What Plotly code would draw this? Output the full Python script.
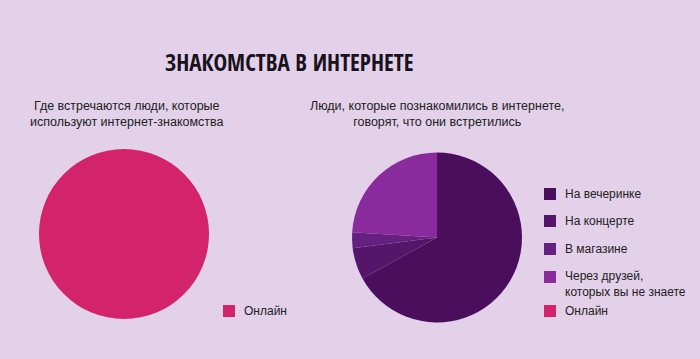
import plotly.graph_objects as go

# ---- data ----
left_labels = ["Онлайн"]
left_values = [100]

right_labels = ["На вечеринке", "На концерте", "В магазине", "Через друзей,<br>которых вы не знаете"]
right_values = [67, 6, 3, 24]

legend_labels = ["На вечеринке", "На концерте", "В магазине", "Через друзей,<br>которых вы не знаете", "Онлайн"]

title_text = "ЗНАКОМСТВА В ИНТЕРНЕТЕ"
left_sub = "Где встречаются люди, которые<br>используют интернет-знакомства"
right_sub = "Люди, которые познакомились в интернете,<br>говорят, что они встретились"

# ---- styles ----
BG = "#e3d0e9"
PINK = "#d3236b"
PURPLES = ["#4a0e5c", "#55156b", "#66207f", "#8a2b9d"]
legend_colors = PURPLES + [PINK]
W, H = 700, 359

fig = go.Figure()

fig.add_trace(go.Pie(
    labels=left_labels, values=left_values, sort=False, direction="clockwise",
    marker=dict(colors=[PINK], line=dict(width=0)),
    textinfo="none", hoverinfo="label+percent", showlegend=False,
    domain=dict(x=[39/W, 209/W], y=[(H-234-85)/H, (H-234+85)/H]),
))
fig.add_trace(go.Pie(
    labels=right_labels, values=right_values, sort=False, direction="clockwise",
    rotation=0,
    marker=dict(colors=PURPLES, line=dict(width=0)),
    textinfo="none", hoverinfo="label+percent", showlegend=False,
    domain=dict(x=[352/W, 522/W], y=[(H-237.5-85)/H, (H-237.5+85)/H]),
))

shapes = []
annotations = []

# title
annotations.append(dict(
    text="<b>" + title_text + "</b>", x=289/W, y=1 - 62/H, xref="paper", yref="paper",
    xanchor="center", yanchor="middle", showarrow=False,
    font=dict(family="Noto Sans ExtraCondensed, Noto Sans Condensed, Open Sans Condensed, Roboto Condensed, Roboto",
              size=23, color="#17121c"),
))
# subtitles
for txt, cx in [(left_sub, 127), (right_sub, 437)]:
    annotations.append(dict(
        text=txt, x=cx/W, y=1 - 113.5/H, xref="paper", yref="paper",
        xanchor="center", yanchor="middle", showarrow=False, align="center",
        font=dict(family="Liberation Sans, Arial, sans-serif", size=12.5, color="#222222"),
    ))

def legend_item(x0, yc, color, label):
    shapes.append(dict(type="rect", xref="paper", yref="paper",
                       x0=x0/W, x1=(x0+12)/W, y0=1-(yc+6)/H, y1=1-(yc-6)/H,
                       fillcolor=color, line=dict(width=0)))
    annotations.append(dict(text=label, x=(x0+19)/W, y=1-yc/H, xref="paper", yref="paper",
                            xanchor="left", yanchor="middle", showarrow=False, align="left",
                            font=dict(family="Liberation Sans, Arial, sans-serif", size=12, color="#222222")))

# left legend
legend_item(223, 311, PINK, left_labels[0])

# right legend
right_y = [194, 221, 249, 284, 311]
for lab, col, yc in zip(legend_labels, legend_colors, right_y):
    if "<br>" in lab:
        shapes.append(dict(type="rect", xref="paper", yref="paper",
                           x0=544/W, x1=556/W, y0=1-(277+6)/H, y1=1-(277-6)/H,
                           fillcolor=col, line=dict(width=0)))
        annotations.append(dict(text=lab, x=563/W, y=1-yc/H, xref="paper", yref="paper",
                                xanchor="left", yanchor="middle", showarrow=False, align="left",
                                font=dict(family="Liberation Sans, Arial, sans-serif", size=12, color="#222222")))
    else:
        legend_item(544, yc, col, lab)

fig.update_layout(
    width=W, height=H,
    margin=dict(l=0, r=0, t=0, b=0),
    paper_bgcolor=BG, plot_bgcolor=BG,
    shapes=shapes, annotations=annotations,
    showlegend=False,
)

fig.write_html("out.html", config={"displayModeBar": False})
